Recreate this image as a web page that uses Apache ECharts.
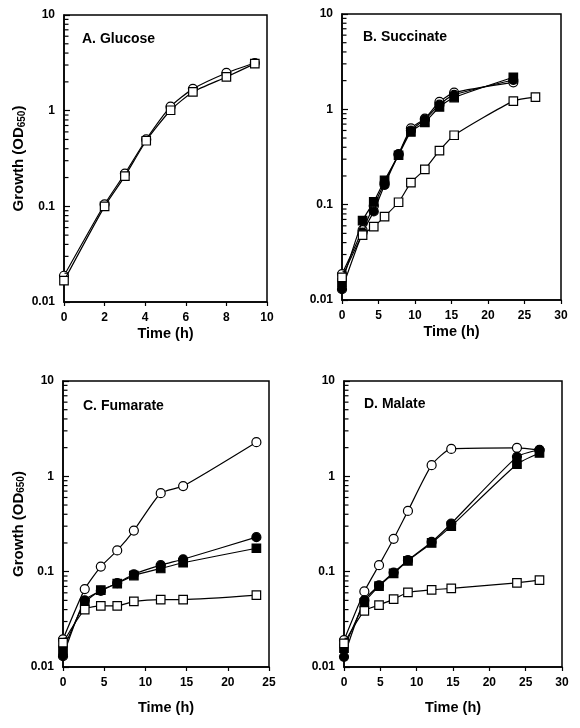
<!DOCTYPE html>
<html>
<head>
<meta charset="utf-8">
<script src="https://cdn.jsdelivr.net/npm/echarts@6/dist/echarts.min.js"></script>
<style>html,body{margin:0;padding:0;background:#fff;}#c{width:580px;height:728px;}</style>
</head>
<body>
<div id="c"></div>
<script>
// ---------- DATA ----------
// Panel A. Glucose
const tA = [0, 2, 3, 4.05, 5.25, 6.35, 8.0, 9.4];
const A_openCircle = [0.0188, 0.105, 0.22, 0.5, 1.1, 1.69, 2.48, 3.15];
const A_openSquare = [0.0167, 0.1, 0.207, 0.485, 1.01, 1.57, 2.25, 3.1];

// Panel B. Succinate
const tB = [0, 2.82, 4.35, 5.83, 7.75, 9.44, 11.35, 13.35, 15.36, 23.47];
const tB_openSquare = [0, 2.82, 4.35, 5.83, 7.75, 9.44, 11.35, 13.35, 15.36, 23.47, 26.5];
const B_openCircle = [0.0187, 0.054, 0.097, 0.17, 0.34, 0.63, 0.8, 1.2, 1.5, 1.92];
const B_filledCircle = [0.013, 0.051, 0.085, 0.161, 0.335, 0.6, 0.78, 1.12, 1.42, 2.03];
const B_filledSquare = [0.0152, 0.068, 0.107, 0.18, 0.33, 0.58, 0.73, 1.06, 1.33, 2.17];
const B_openSquare = [0.0173, 0.048, 0.0588, 0.075, 0.106, 0.17, 0.235, 0.368, 0.535, 1.22, 1.34];

// Panel C. Fumarate
const tC = [0, 2.64, 4.59, 6.58, 8.6, 11.86, 14.58, 23.47];
const C_openCircle = [0.0195, 0.0656, 0.113, 0.167, 0.27, 0.665, 0.79, 2.28];
const C_filledCircle = [0.013, 0.05, 0.063, 0.076, 0.094, 0.117, 0.135, 0.23];
const C_filledSquare = [0.015, 0.047, 0.064, 0.075, 0.091, 0.108, 0.124, 0.176];
const C_openSquare = [0.018, 0.040, 0.0438, 0.0438, 0.0487, 0.051, 0.051, 0.0567];

// Panel D. Malate
const tD = [0, 2.8, 4.82, 6.83, 8.8, 12.06, 14.76, 23.8, 26.9];
const D_openCircle = [0.0191, 0.062, 0.117, 0.221, 0.434, 1.31, 1.94, 1.99, 1.88];
const D_filledCircle = [0.0128, 0.05, 0.072, 0.098, 0.132, 0.205, 0.32, 1.6, 1.9];
const D_filledSquare = [0.0158, 0.047, 0.0705, 0.096, 0.13, 0.2, 0.3, 1.34, 1.76];
const D_openSquare = [0.0177, 0.0388, 0.0446, 0.0515, 0.0605, 0.0645, 0.0667, 0.0764, 0.0815];

// Panel titles and axis text
const panelTitles = ['A. Glucose', 'B. Succinate', 'C. Fumarate', 'D. Malate'];
const xLabel = 'Time (h)';
const yLabelMain = 'Growth (OD';
const yLabelSub = '650';
// Axis ranges
const xMax = [10, 30, 25, 30];
const xInterval = [2, 5, 5, 5];
const yMin = 0.01, yMax = 10;
// minor tick values of the log axis
const minorTickValues = [0.02,0.03,0.04,0.05,0.06,0.07,0.08,0.09,
                         0.2,0.3,0.4,0.5,0.6,0.7,0.8,0.9,
                         2,3,4,5,6,7,8,9];

// ---------- LAYOUT / STYLE ----------
const FONT = '"Liberation Sans", Arial, Helvetica, sans-serif';
const grids = [
  {left: 64, top: 15, width: 203, height: 287},
  {left: 342, top: 14, width: 219, height: 286},
  {left: 63, top: 381, width: 206, height: 286},
  {left: 344, top: 381, width: 218, height: 286}
];
const titlePos = [[82, 32], [363, 30], [83, 399], [364, 397]];
const xNameGap = [24, 24, 33, 33];
const yNameGap = [37, 0, 35, 0];

const STY = {
  openCircle:   {symbol: 'circle', fill: '#fff'},
  filledCircle: {symbol: 'circle', fill: '#000'},
  filledSquare: {symbol: 'rect',   fill: '#000'},
  openSquare:   {symbol: 'rect',   fill: '#fff'}
};

const panels = [
  [['openCircle', tA, A_openCircle], ['openSquare', tA, A_openSquare]],
  [['openCircle', tB, B_openCircle], ['filledCircle', tB, B_filledCircle],
   ['filledSquare', tB, B_filledSquare], ['openSquare', tB_openSquare, B_openSquare]],
  [['openCircle', tC, C_openCircle], ['filledCircle', tC, C_filledCircle],
   ['filledSquare', tC, C_filledSquare], ['openSquare', tC, C_openSquare]],
  [['openCircle', tD, D_openCircle], ['filledCircle', tD, D_filledCircle],
   ['filledSquare', tD, D_filledSquare], ['openSquare', tD, D_openSquare]]
];

const chart = echarts.init(document.getElementById('c'), null, {renderer: 'canvas'});

const option = {
  backgroundColor: '#fff',
  animation: false,
  textStyle: {fontFamily: FONT},
  title: panelTitles.map((t, i) => ({
    text: t, left: titlePos[i][0], top: titlePos[i][1], padding: 0,
    textStyle: {fontFamily: FONT, fontWeight: 'bold', fontSize: 14, color: '#000'}
  })),
  grid: grids.map(g => Object.assign({show: true, borderColor: '#000', borderWidth: 1.5,
    backgroundColor: 'transparent', containLabel: false}, g)),
  xAxis: grids.map((g, i) => ({
    type: 'value', gridIndex: i, min: 0, max: xMax[i], interval: xInterval[i],
    name: xLabel, nameLocation: 'middle', nameGap: xNameGap[i],
    nameTextStyle: {fontFamily: FONT, fontWeight: 'bold', fontSize: 14.5, color: '#000'},
    axisLine: {show: true, lineStyle: {color: '#000', width: 1.5}},
    axisTick: {show: true, inside: false, length: 4, lineStyle: {color: '#000', width: 1.2}},
    axisLabel: {fontFamily: FONT, fontWeight: 'bold', fontSize: 12, color: '#000', margin: 10},
    splitLine: {show: false}
  })),
  yAxis: grids.map((g, i) => ({
    type: 'log', logBase: 10, gridIndex: i, min: yMin, max: yMax,
    name: yNameGap[i] ? '{a|' + yLabelMain + '}{s|' + yLabelSub + '}{a|)}' : '',
    nameLocation: 'middle', nameGap: yNameGap[i] || 30, nameRotate: 90,
    nameTextStyle: {
      rich: {
        a: {fontFamily: FONT, fontWeight: 'bold', fontSize: 15, color: '#000'},
        s: {fontFamily: FONT, fontWeight: 'bold', fontSize: 10, color: '#000', verticalAlign: 'bottom', padding: [6, 0, 0, 0]}
      }
    },
    axisLine: {show: true, lineStyle: {color: '#000', width: 1.5}},
    axisTick: {show: true, inside: true, length: 6, lineStyle: {color: '#000', width: 1.2}},
    axisLabel: {fontFamily: FONT, fontWeight: 'bold', fontSize: 12, color: '#000', margin: 9,
      formatter: v => String(+v.toPrecision(3))},
    splitLine: {show: false},
    minorTick: {show: false}
  })),
  series: []
};

// minor ticks of the log axes (small bars placed through the axis scale)
grids.forEach((g, i) => {
  option.series.push({
    type: 'scatter', xAxisIndex: i, yAxisIndex: i, silent: true, z: 10, clip: false,
    data: minorTickValues.map(v => [0, v]),
    symbol: 'rect', symbolSize: [4, 1.2], symbolOffset: [2.5, 0],
    itemStyle: {color: '#000', opacity: 1},
    emphasis: {disabled: true}
  });
});

panels.forEach((list, i) => {
  list.forEach(([kind, t, v], k) => {
    const s = STY[kind];
    option.series.push({
      type: 'line', xAxisIndex: i, yAxisIndex: i, z: 3 + k,
      data: t.map((x, j) => [x, v[j]]),
      smooth: 0.2,
      symbol: s.symbol, symbolSize: kind.indexOf('Square') >= 0 ? 8.5 : 9,
      showSymbol: true,
      lineStyle: {color: '#000', width: 1.2},
      itemStyle: {color: s.fill, borderColor: '#000', borderWidth: 1.2},
      emphasis: {disabled: true}
    });
  });
});

chart.setOption(option);
</script>
</body>
</html>
